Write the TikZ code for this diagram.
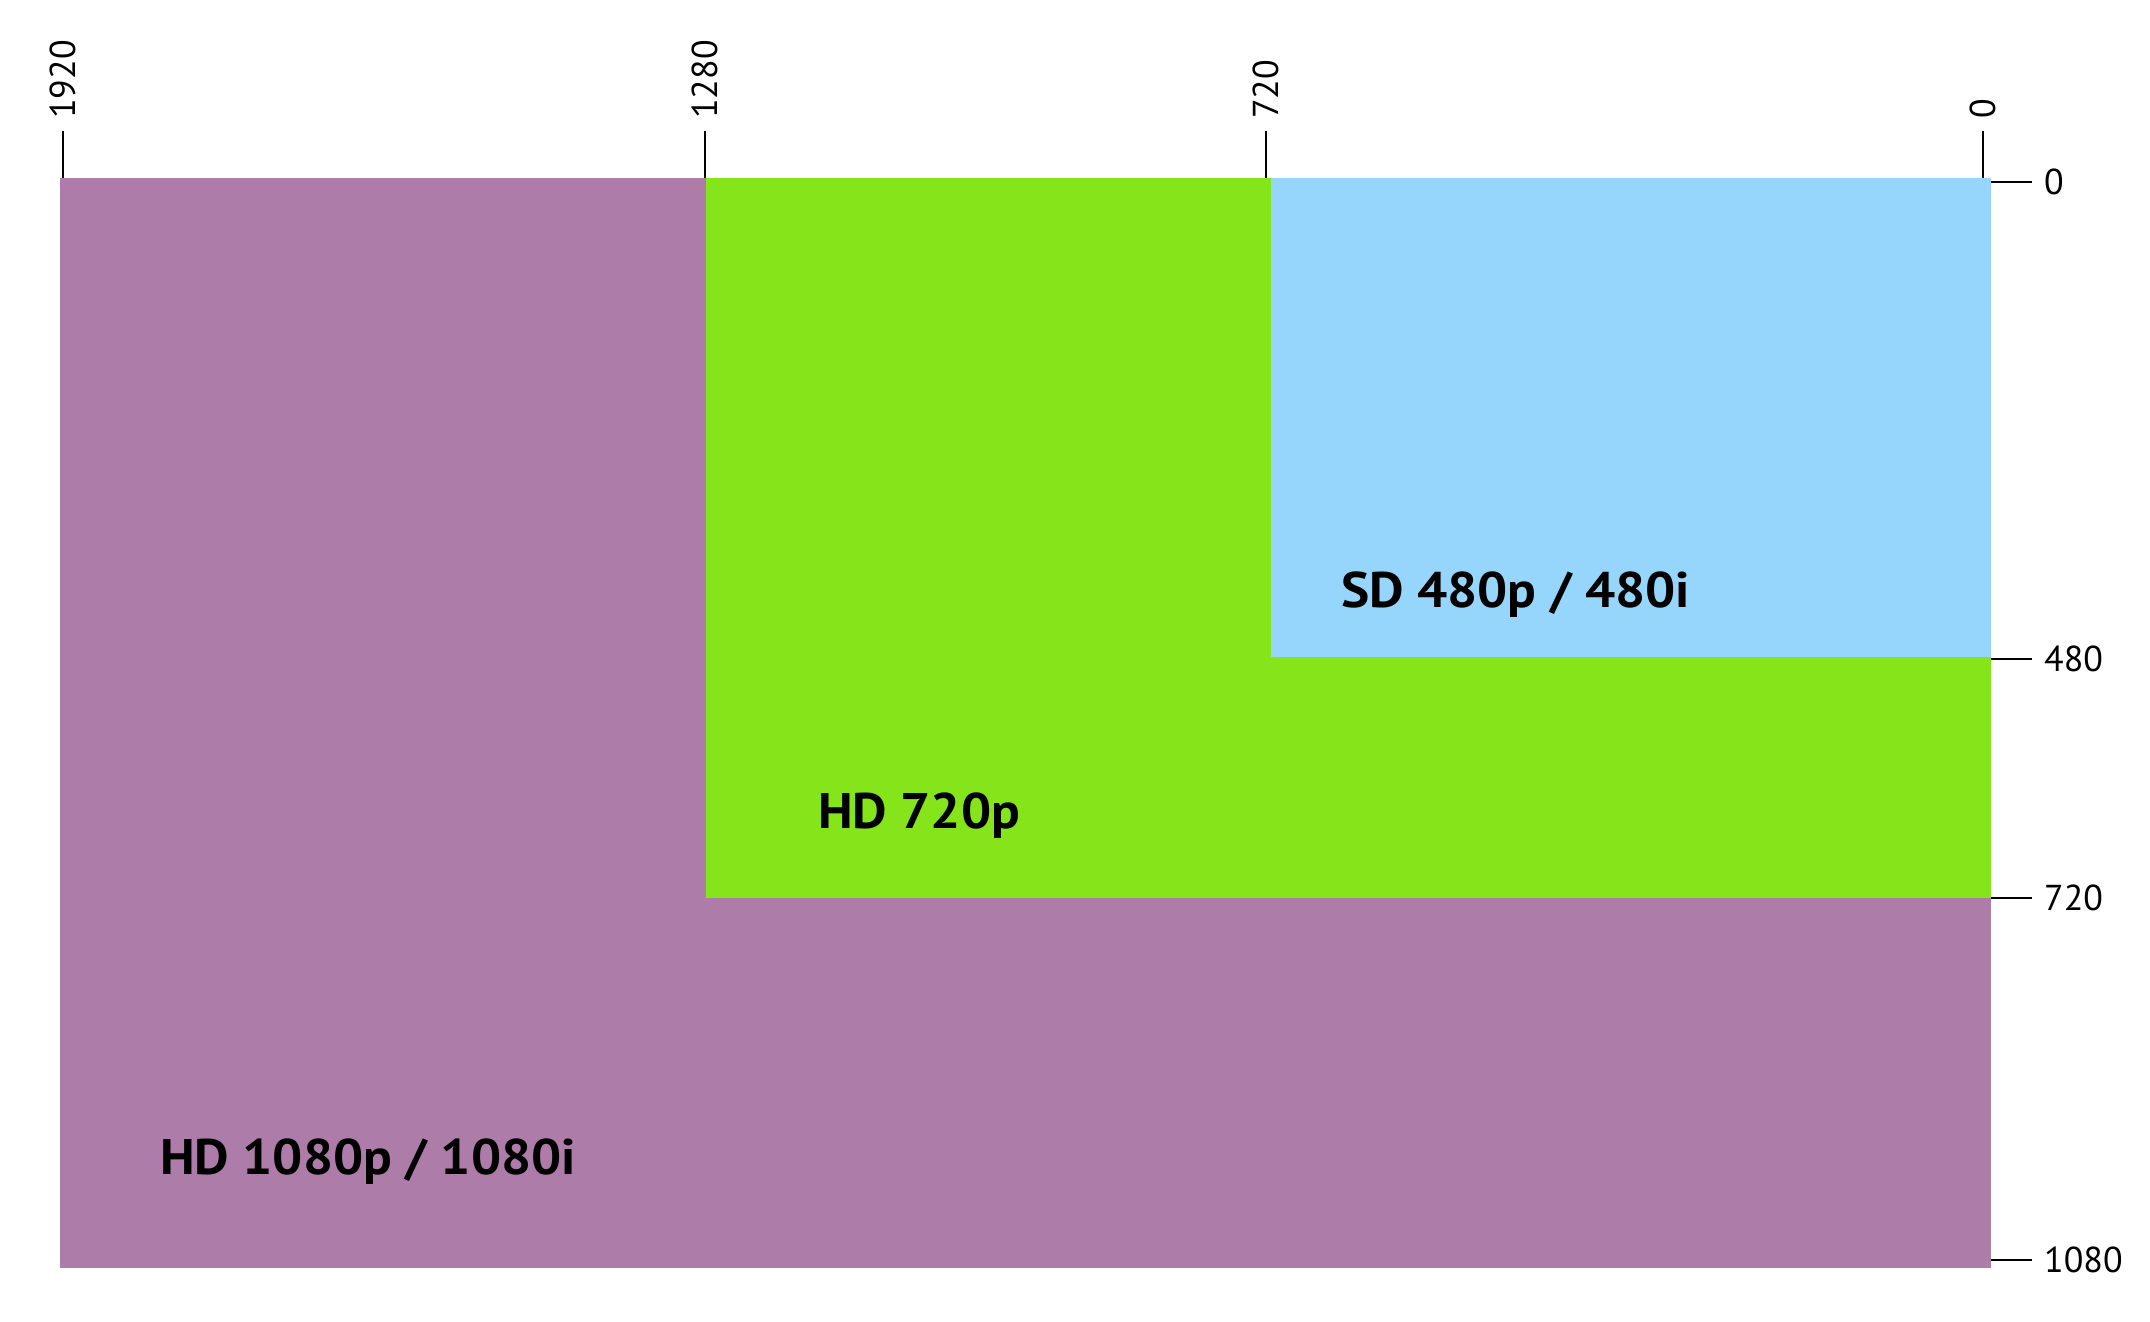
\documentclass[tikz,border=0pt]{standalone}
\usepackage{fontspec}
\setmainfont{PT Sans}
\newfontfamily\reslabelfont[FakeStretch=1.065]{PT Sans}
\definecolor{cpurple}{RGB}{174,124,168}
\definecolor{cgreen}{RGB}{134,228,26}
\definecolor{cblue}{RGB}{150,214,253}
\begin{document}
\begin{tikzpicture}[x=1pt,y=-1pt,
  tick/.style={line width=2.5pt,black},
  numlbl/.style={inner sep=0pt,font=\fontsize{36}{40}\selectfont},
  toplbl/.style={numlbl,rotate=90,anchor=west},
  sidelbl/.style={numlbl,anchor=west},
  reslbl/.style={inner sep=0pt,anchor=base west,font=\reslabelfont\fontsize{50}{60}\selectfont\bfseries}]
\useasboundingbox (0,0) rectangle (2150,1322);
% areas
\fill[cpurple] (60,178) rectangle (1991,1268);
\fill[cgreen] (706,178) rectangle (1991,898);
\fill[cblue] (1271,178) rectangle (1991,657);
% top ticks
\coordinate (t1a) at (63,131);   \coordinate (t1b) at (63,178);
\coordinate (t2a) at (705,131);  \coordinate (t2b) at (705,178);
\coordinate (t3a) at (1266,131); \coordinate (t3b) at (1266,178);
\coordinate (t4a) at (1983,131); \coordinate (t4b) at (1983,178);
\draw[tick] (t1a) -- (t1b);
\draw[tick] (t2a) -- (t2b);
\draw[tick] (t3a) -- (t3b);
\draw[tick] (t4a) -- (t4b);
\node[toplbl] (l1920) at (63,119) {1920};
\node[toplbl] (l1280) at (705,119) {1280};
\node[toplbl] (l720t) at (1266,119) {720};
\node[toplbl] (l0t) at (1983,119) {0};
% right ticks
\coordinate (r1a) at (1991,182);  \coordinate (r1b) at (2032,182);
\coordinate (r2a) at (1991,659);  \coordinate (r2b) at (2032,659);
\coordinate (r3a) at (1991,898);  \coordinate (r3b) at (2032,898);
\coordinate (r4a) at (1991,1260); \coordinate (r4b) at (2032,1260);
\draw[tick] (r1a) -- (r1b);
\draw[tick] (r2a) -- (r2b);
\draw[tick] (r3a) -- (r3b);
\draw[tick] (r4a) -- (r4b);
\node[sidelbl] (l0r) at (2044,182) {0};
\node[sidelbl] (l480) at (2044,659) {480};
\node[sidelbl] (l720r) at (2044,898) {720};
\node[sidelbl] (l1080) at (2044,1260) {1080};
% resolution labels
\node[reslbl] (sd) at (1341,607) {SD 480p / 480i};
\node[reslbl] (hd720) at (818,828) {HD 720p};
\node[reslbl] (hd1080) at (160,1174) {HD 1080p / 1080i};
\end{tikzpicture}
\end{document}
